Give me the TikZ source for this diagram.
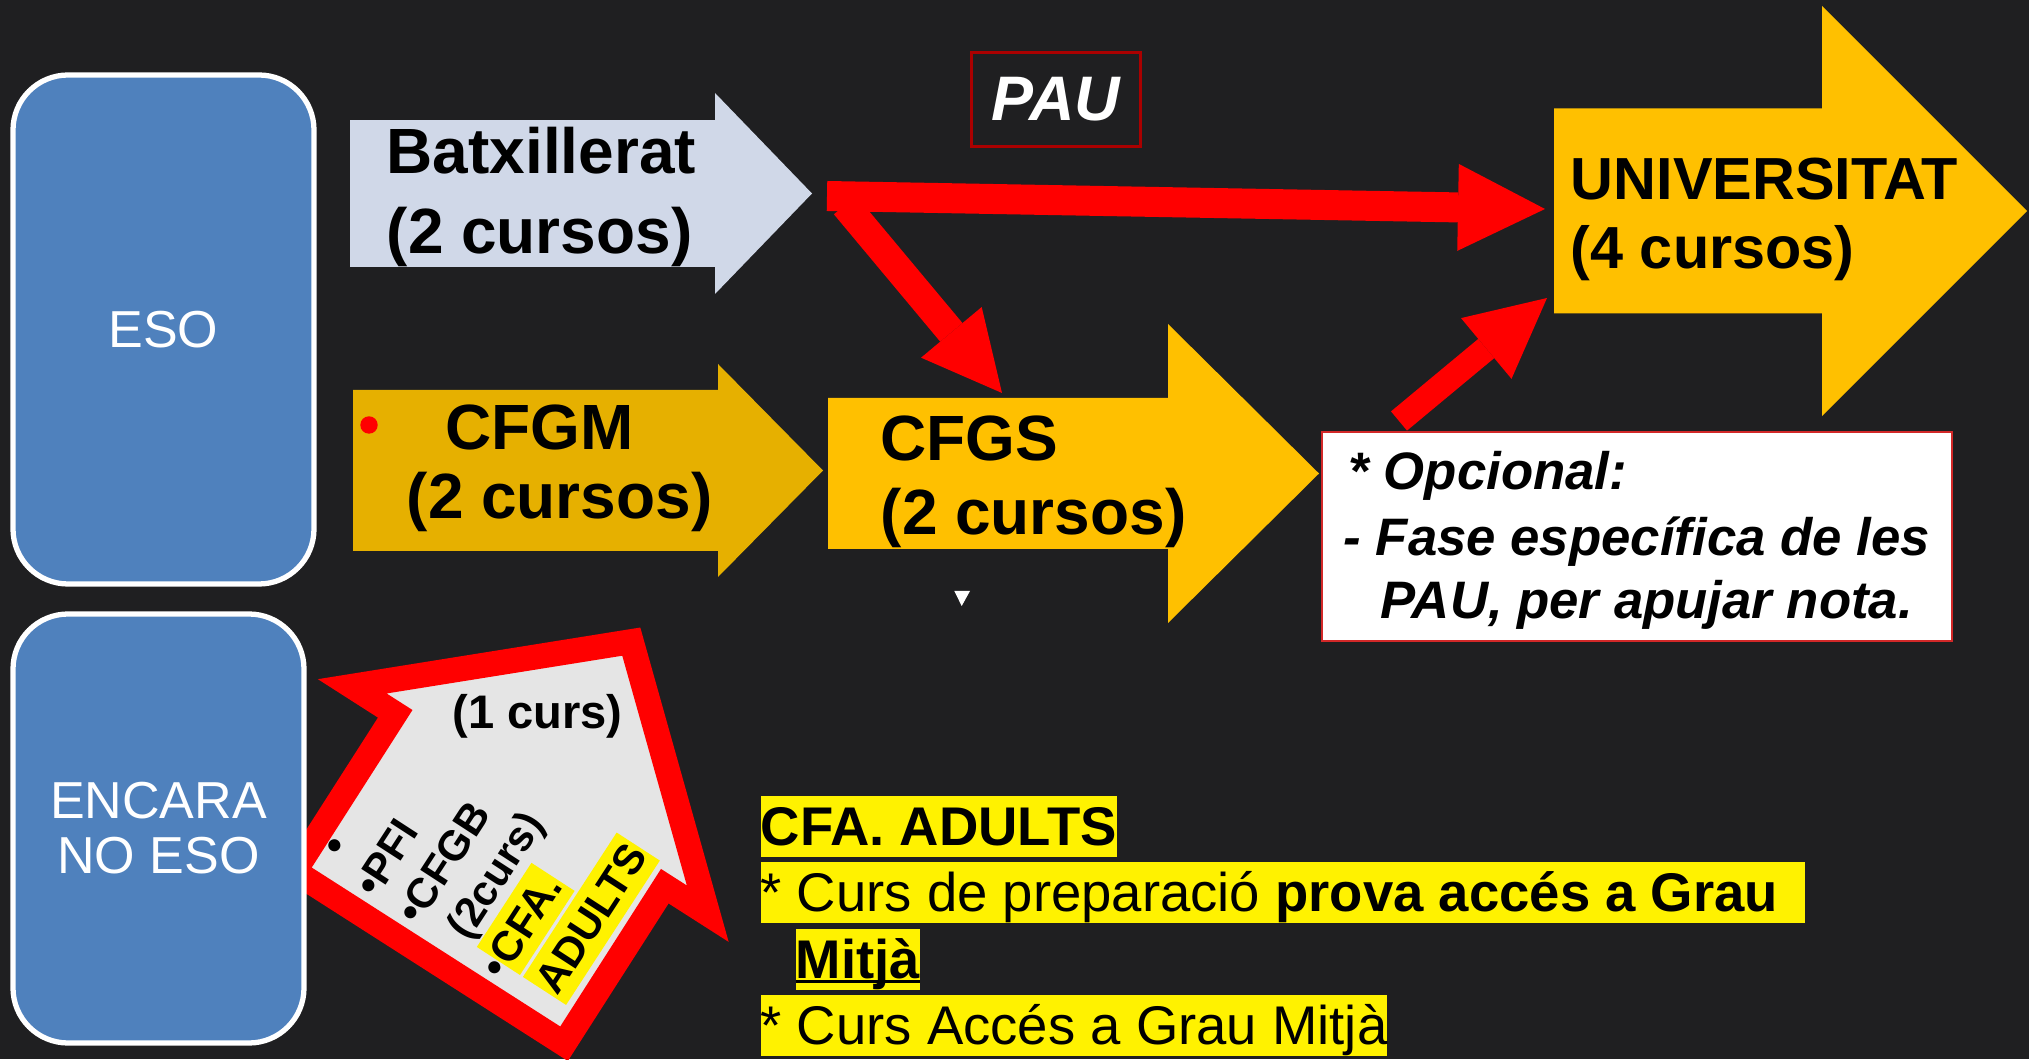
\documentclass[tikz,border=0pt]{standalone}
\usepackage{fontspec}
\setmainfont{Liberation Sans}
\usetikzlibrary{arrows.meta}
\definecolor{board}{RGB}{31,31,33}
\definecolor{esoblue}{RGB}{79,129,189}
\definecolor{batxgrey}{RGB}{208,216,232}
\definecolor{cfgmgold}{RGB}{230,176,0}
\definecolor{gold}{RGB}{255,192,0}
\definecolor{paured}{RGB}{170,0,0}
\definecolor{optred}{RGB}{210,40,40}
\definecolor{housegrey}{RGB}{229,229,229}
\newcommand{\ulbar}[1]{\setbox0\hbox{#1}\rlap{\rule[-0.1em]{\wd0}{0.06em}}\box0}
\newcommand{\hlt}[1]{{\setlength{\fboxsep}{.6pt}\colorbox{yellow}{\rule[-.22em]{0pt}{1.12em}#1}}}

\begin{document}
\begin{tikzpicture}[
  txt/.style={anchor=base west,inner sep=0pt},
  big/.style={txt,font=\fontsize{18.2}{21}\selectfont\bfseries},
  uni/.style={txt,font=\fontsize{16.9}{20}\selectfont\bfseries},
  opt/.style={txt,font=\fontsize{15}{18}\selectfont\bfseries\itshape},
  hl/.style={txt,fill=yellow,text height=.49cm,text depth=.12cm,font=\fontsize{15.5}{18}\selectfont},
  redarrow/.style={draw=red,-{Triangle[length=#1,width=#1,line width=0pt]}},
  stage/.style={draw=white,line width=1.5pt,fill=esoblue,rounded corners=.55cm,text=white,
    font=\fontsize{14.8}{15.6}\selectfont,align=center}
]
\fill[board] (0,0) rectangle (20.29,10.59);
\useasboundingbox (0,0) rectangle (20.29,10.59);
% Batxillerat
\begin{scope}[shift={(3.5,8.655)}]
  \fill[batxgrey] (0,-.733) -- (3.65,-.733) -- (3.65,-1.005) -- (4.62,0) -- (3.65,1.005) -- (3.65,.733) -- (0,.733) -- cycle;
  \node[big] (bat) at (.36,.195) {Batxillerat};
  \node[big] (batc) at (.36,-.605) {(2 cursos)};
\end{scope}
% CFGM
\begin{scope}[shift={(3.53,5.885)}]
  \fill[cfgmgold] (0,-.805) -- (3.65,-.805) -- (3.65,-1.065) -- (4.70,0) -- (3.65,1.065) -- (3.65,.805) -- (0,.805) -- cycle;
  \fill[red] (.16,.455) circle (.087);
  \node[big] (cfgm) at (.92,.205) {CFGM};
  \node[big] (cfgmc) at (.53,-.481) {(2 cursos)};
\end{scope}
% CFGS
\begin{scope}[shift={(8.28,5.855)}]
  \fill[gold] (0,-.755) -- (3.40,-.755) -- (3.40,-1.495) -- (4.91,0) -- (3.40,1.495) -- (3.40,.755) -- (0,.755) -- cycle;
  \node[big] (cfgs) at (.52,.125) {CFGS};
  \node[big] (cfgsc) at (.52,-.61) {(2 cursos)};
\end{scope}
\fill[white] (9.543,4.68) -- (9.70,4.68) -- (9.617,4.53) -- cycle;
% Universitat
\begin{scope}[shift={(15.54,8.48)}]
  \fill[gold] (0,-1.025) -- (2.68,-1.025) -- (2.68,-2.052) -- (4.73,0) -- (2.68,2.052) -- (2.68,1.025) -- (0,1.025) -- cycle;
  \node[uni] (univ) at (.16,.11) {UNIVERSITAT};
  \node[uni] (univc) at (.16,-.58) {(4 cursos)};
\end{scope}
% PAU and optional phase
\node[draw=paured,line width=.9pt,minimum width=1.686cm,minimum height=.944cm,inner sep=0pt,
  text=white,font=\fontsize{17.9}{21}\selectfont\bfseries\itshape] (pau) at (10.56,9.595) {PAU};
\node[draw=optred,line width=.6pt,fill=white,minimum width=6.30cm,minimum height=2.083cm] (opc) at (16.37,5.225) {};
\node[opt] (opc1) at (13.48,5.69) {* Opcional:};
\node[opt] (opc2) at (13.43,5.035) {- Fase específica de les};
\node[opt] (opc3) at (13.80,4.40) {PAU, per apujar nota.};
% Red connectors
\coordinate (bat-out) at (8.27,8.63);
\coordinate (univ-in) at (15.45,8.50);
\coordinate (bat-down) at (8.45,8.54);
\coordinate (cfgs-in) at (10.02,6.66);
\coordinate (opc-out) at (13.99,6.38);
\coordinate (univ-low) at (15.47,7.61);
\draw[redarrow=.87cm,line width=.30cm] (bat-out) -- (univ-in);
\draw[redarrow=.79cm,line width=.29cm] (bat-down) -- (cfgs-in);
\draw[redarrow=.79cm,line width=.25cm] (opc-out) -- (univ-low);
% Turned arrow for students without ESO
\begin{scope}[shift={(5.30,2.59)},rotate=57.4]
  \filldraw[draw=red,fill=housegrey,line width=.25cm] (0,2.11) -- (1.88,0) -- (0,-2.11) -- (0,-1.60)
    -- (-1.87,-1.60) -- (-1.87,1.60) -- (0,1.60) -- cycle;
\end{scope}
\node[txt,font=\fontsize{13.4}{16}\selectfont\bfseries] (curs) at (4.517,3.307) {(1 curs)};
% base of a multi-line node is its last line
\node[txt,rotate=57,align=left,font=\fontsize{12}{14.23}\selectfont\bfseries] (routes) at (5.481,.473)
  {\hspace*{.15cm}•\\•PFI\\•CFGB\\\hspace*{.35em}(2curs)\\•\hlt{CFA.}\\\hspace*{.35em}\hlt{ADULTS}};
% Stages
\node[stage,minimum width=3.01cm,minimum height=5.09cm] (eso) at (1.635,7.295) {ESO};
\node[stage,minimum width=2.91cm,minimum height=4.29cm] (encara) at (1.585,2.305) {ENCARA\\NO ESO};
% Adult school notes
\node[hl] (cfanote) at (7.60,2.14) {\textbf{CFA. ADULTS}};
\node[hl] (prep) at (7.60,1.48) {* Curs de preparació \textbf{prova accés a Grau}\rule{.5em}{0pt}};
\node[hl] (mitja) at (7.95,.81) {\textbf{\ulbar{Mitjà}}};
\node[hl] (acces) at (7.60,.15) {* Curs Accés a Grau Mitjà};
\end{tikzpicture}
\end{document}
